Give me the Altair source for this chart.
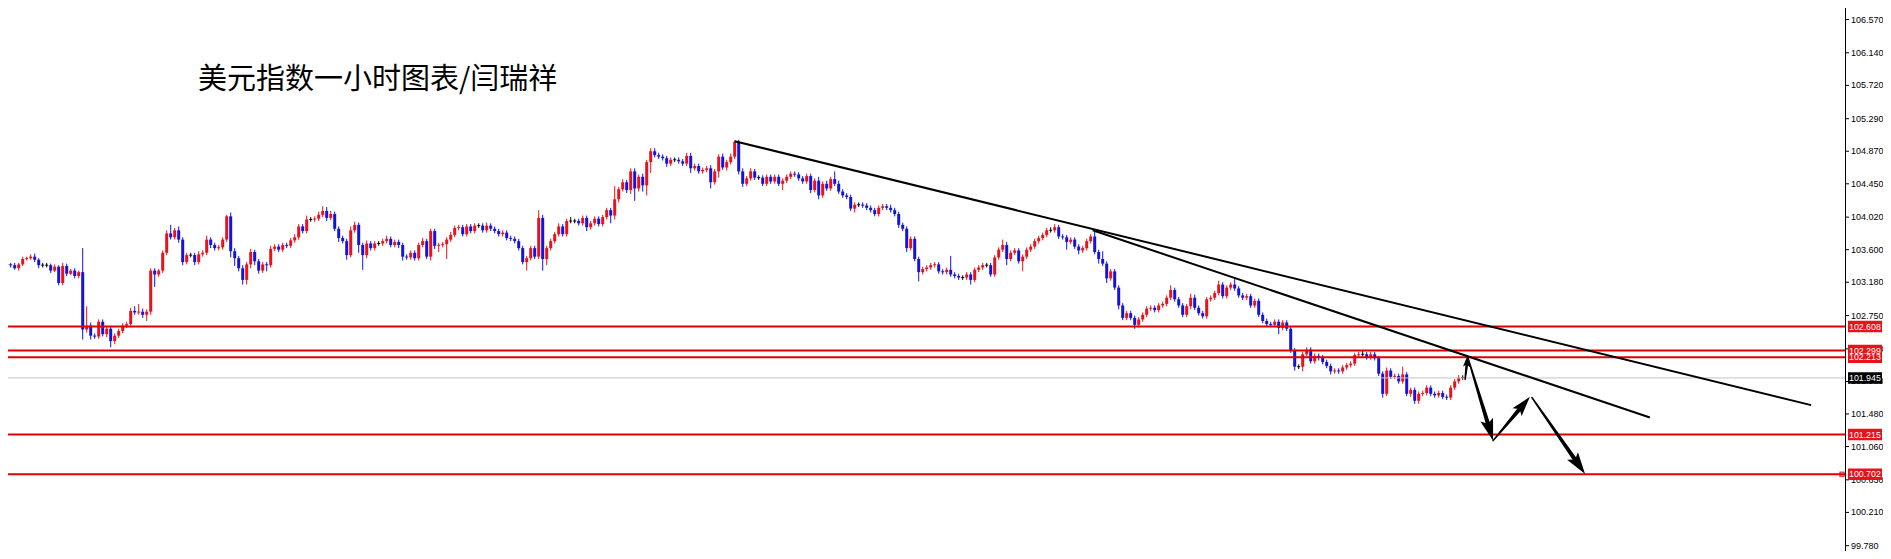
import math
import altair as alt
import pandas as pd

# ---------------- data ----------------
closes = [
    103.41, 103.41, 103.40, 103.36, 103.41, 103.48, 103.49, 103.51, 103.47, 103.40,
    103.40, 103.40, 103.33, 103.38, 103.17, 103.39, 103.29, 103.33, 103.26, 103.31,
    102.57, 102.62, 102.49, 102.48, 102.67, 102.51, 102.58, 102.42, 102.49, 102.55,
    102.62, 102.64, 102.81, 102.79, 102.80, 102.76, 102.80, 103.33, 103.28, 103.33,
    103.56, 103.81, 103.76, 103.85, 103.73, 103.44, 103.53, 103.53, 103.44, 103.54,
    103.56, 103.73, 103.66, 103.62, 103.63, 103.73, 104.03, 103.58, 103.49, 103.36,
    103.21, 103.41, 103.57, 103.45, 103.33, 103.41, 103.40, 103.61, 103.64, 103.60,
    103.66, 103.65, 103.72, 103.76, 103.90, 103.84, 103.99, 103.99, 104.00, 104.05,
    104.10, 104.01, 104.06, 103.87, 103.75, 103.71, 103.53, 103.85, 103.92, 103.66,
    103.53, 103.68,
    103.62, 103.68, 103.68, 103.71, 103.74, 103.66, 103.70, 103.66, 103.51, 103.50,
    103.56, 103.49, 103.66, 103.71, 103.51, 103.84, 103.65, 103.66, 103.67, 103.73,
    103.79, 103.88, 103.89, 103.80, 103.90, 103.84, 103.91, 103.91, 103.85, 103.91,
    103.87, 103.84, 103.80, 103.82, 103.75, 103.74, 103.71, 103.62, 103.44, 103.49,
    103.62, 103.51, 104.01, 103.48, 103.62, 103.71, 103.80, 103.90, 103.80, 103.97,
    103.97, 103.97, 103.94, 104.01, 103.89, 103.94, 104.00, 103.93, 104.02, 104.11,
    104.04, 104.25, 104.38, 104.47, 104.37, 104.61, 104.39, 104.54, 104.43, 104.73,
    104.87, 104.82, 104.80, 104.78, 104.71, 104.76, 104.76, 104.74, 104.71, 104.81,
    104.65, 104.68, 104.61, 104.63, 104.65, 104.47, 104.61, 104.80, 104.66, 104.73,
    104.80, 104.99, 104.61,
    104.45, 104.52, 104.61, 104.53, 104.53, 104.45, 104.54, 104.48, 104.54, 104.45,
    104.49, 104.54, 104.58, 104.57, 104.52, 104.48, 104.55, 104.37, 104.49, 104.30,
    104.45, 104.39, 104.51, 104.45, 104.35, 104.30, 104.28, 104.13, 104.18, 104.18,
    104.17, 104.14, 104.11, 104.06, 104.14, 104.16, 104.14, 104.11, 104.06, 103.92,
    103.87, 103.62, 103.74, 103.48, 103.31, 103.35, 103.37, 103.40, 103.41, 103.32,
    103.31, 103.34, 103.28, 103.26, 103.24, 103.24, 103.28, 103.21, 103.34, 103.37,
    103.40, 103.40, 103.28, 103.50, 103.60, 103.66, 103.48, 103.56, 103.59, 103.45,
    103.51, 103.60, 103.64, 103.71, 103.75, 103.79, 103.85, 103.85, 103.89, 103.77,
    103.76, 103.70, 103.73, 103.64, 103.59, 103.62, 103.71, 103.77, 103.57, 103.48,
    103.42, 103.23,
    103.32, 103.11, 102.88, 102.72, 102.78, 102.72, 102.63, 102.70, 102.76, 102.84,
    102.85, 102.82, 102.88, 102.90, 102.98, 103.08, 102.96, 102.88, 102.76, 102.87,
    102.98, 102.85, 102.78, 102.74, 102.96, 102.98, 103.04, 103.15, 103.00, 103.11,
    103.15, 103.10, 103.01, 102.98, 103.00, 102.88, 102.94, 102.76, 102.68, 102.64,
    102.63, 102.67, 102.59, 102.66, 102.58, 102.30, 102.09, 102.09, 102.25, 102.31,
    102.16, 102.23, 102.21, 102.15, 102.10, 102.03, 102.04, 102.03, 102.08, 102.11,
    102.13, 102.24, 102.25, 102.25, 102.21, 102.25, 102.20, 102.00, 101.74, 102.04,
    101.96, 101.97, 101.90, 101.99, 101.74, 101.79, 101.65, 101.74, 101.75, 101.82,
    101.74, 101.72, 101.75, 101.70, 101.69, 101.82, 101.90, 101.95, 101.95,
]

# upper / lower shadow lengths, in hundredths
up_wick = [
    2, 2, 2, 3, 2, 3, 2, 3, 4, 2,   3, 3, 2, 3, 2, 4, 3, 2, 3, 2,
    31, 25, 4, 3, 3, 3, 4, 3, 3, 3,  3, 3, 4, 6, 10, 4, 3, 3, 3, 2,
    3, 4, 11, 3, 5, 3, 3, 3, 3, 4,  3, 5, 3, 3, 3, 3, 2, 5, 4, 3,
    4, 3, 4, 3, 3, 3, 3, 4, 3, 3,   3, 3, 3, 4, 3, 3, 5, 3, 3, 4,
    6, 5, 4, 3, 3, 3, 3, 5, 4, 3,   3, 4,
    3, 3, 3, 3, 4, 3, 3, 3, 3, 3,   3, 3, 3, 4, 3, 3, 3, 3, 3, 3,
    4, 3, 3, 3, 3, 3, 3, 3, 3, 4,   3, 3, 3, 3, 3, 3, 3, 3, 3, 3,
    3, 3, 10, 4, 3, 3, 3, 4, 3, 3,  5, 3, 3, 3, 3, 3, 3, 3, 3, 3,
    3, 17, 3, 4, 3, 4, 4, 3, 4, 3,  4, 4, 3, 3, 3, 3, 3, 3, 3, 4,
    4, 3, 3, 3, 3, 4, 3, 3, 4, 3,   4, 2, 3,
    4, 3, 4, 3, 3, 3, 3, 3, 3, 3,   3, 3, 3, 3, 3, 3, 3, 3, 3, 5,
    3, 4, 3, 10, 4, 3, 3, 3, 3, 3,  3, 3, 3, 3, 3, 3, 3, 4, 3, 3,
    3, 3, 3, 3, 3, 3, 3, 3, 3, 3,   3, 3, 18, 3, 3, 3, 3, 3, 3, 3,
    3, 3, 3, 3, 3, 7, 4, 3, 3, 3,   3, 3, 3, 3, 3, 3, 3, 4, 4, 3,
    3, 3, 3, 3, 3, 3, 3, 3, 6, 3,   10, 3,
    3, 3, 3, 3, 3, 3, 3, 3, 3, 3,   3, 3, 3, 3, 3, 6, 3, 3, 3, 3,
    5, 4, 3, 3, 3, 3, 3, 5, 3, 3,   3, 9, 3, 3, 3, 3, 3, 3, 3, 3,
    3, 3, 3, 3, 3, 3, 3, 3, 3, 3,   3, 3, 3, 3, 3, 3, 3, 3, 3, 3,
    3, 3, 3, 5, 3, 3, 3, 3, 3, 4,   3, 3, 3, 10, 3, 3, 3, 3, 3, 3,
    3, 3, 3, 3, 3, 3, 3, 3, 3,
]
dn_wick = [
    2, 2, 3, 2, 3, 2, 2, 2, 3, 4,   3, 3, 3, 2, 3, 3, 3, 2, 3, 3,
    13, 4, 5, 3, 3, 3, 4, 8, 4, 3,  3, 3, 4, 3, 3, 4, 8, 4, 16, 3,
    3, 3, 3, 3, 4, 4, 3, 3, 4, 3,   3, 3, 4, 3, 3, 3, 3, 8, 10, 4,
    6, 6, 5, 5, 4, 3, 8, 3, 3, 3,   3, 3, 3, 3, 3, 3, 3, 3, 3, 3,
    3, 4, 3, 3, 5, 3, 6, 3, 3, 10,  19, 4,
    3, 3, 3, 3, 3, 3, 3, 4, 5, 3,   3, 3, 3, 3, 3, 5, 4, 8, 3, 19,
    3, 3, 3, 3, 3, 3, 3, 3, 3, 3,   3, 3, 3, 3, 3, 3, 3, 3, 3, 11,
    3, 3, 3, 15, 8, 3, 3, 3, 3, 3,  3, 3, 3, 3, 5, 3, 3, 3, 3, 3,
    10, 5, 4, 3, 4, 5, 16, 4, 8, 13,  14, 3, 3, 3, 4, 3, 3, 3, 3, 3,
    6, 3, 3, 3, 3, 8, 3, 8, 3, 4,   3, 3, 4,
    4, 3, 3, 3, 3, 3, 3, 3, 3, 3,   8, 3, 3, 3, 3, 3, 3, 4, 3, 5,
    3, 3, 3, 3, 3, 3, 3, 3, 5, 3,   3, 3, 3, 3, 3, 3, 3, 3, 3, 4,
    3, 5, 3, 3, 12, 3, 3, 3, 3, 3,  3, 3, 3, 3, 3, 3, 3, 6, 3, 3,
    3, 3, 3, 3, 3, 3, 8, 3, 3, 3,   13, 3, 3, 3, 3, 3, 3, 3, 3, 3,
    3, 10, 3, 3, 5, 3, 3, 3, 3, 6,  3, 6,
    3, 3, 5, 3, 3, 3, 5, 3, 3, 3,   3, 3, 3, 3, 3, 3, 3, 3, 3, 3,
    4, 3, 3, 3, 3, 3, 3, 3, 3, 3,   3, 3, 3, 3, 3, 3, 3, 3, 3, 3,
    3, 3, 8, 3, 3, 3, 5, 3, 6, 3,   3, 3, 4, 3, 3, 4, 3, 3, 3, 3,
    3, 3, 3, 3, 3, 3, 3, 3, 5, 3,   3, 3, 3, 3, 3, 4, 4, 4, 3, 3,
    3, 3, 3, 3, 3, 3, 3, 3, 3,
]

tick_values = [106.570, 106.140, 105.720, 105.290, 104.870, 104.450, 104.020,
               103.600, 103.180, 102.750, 102.320, 101.900, 101.480, 101.060,
               100.630, 100.210, 99.780]
red_levels = [102.608, 102.299, 102.213, 101.215, 100.702]
current_price = 101.945
title_text = "美元指数一小时图表/闫瑞祥"

# trend lines: start bar, start price, end bar, end price
trend_x0 = [183, 272.5]
trend_y0 = [105.00, 103.85]
trend_x1 = [452.1, 411.8]
trend_y1 = [101.594, 101.435]

# projection arrows: start bar, start price, tip bar, tip price
arrow_x0 = [365.6, 366.3, 372.6, 382.3]
arrow_y0 = [101.927, 102.206, 101.136, 101.692]
arrow_x1 = [366.3, 372.6, 381.8, 395.6]
arrow_y1 = [102.241, 101.136, 101.701, 100.706]
arrow_head = [12, 22, 20, 22]   # head length, px

# ---------------- layout ----------------
W, H = 1837, 543
X_DOM = [1.325, 460.575]
Y_DOM = [99.7119, 106.7184]
px_i = W / (X_DOM[1] - X_DOM[0])
px_p = H / (Y_DOM[1] - Y_DOM[0])

RED = "#e8121a"
BLUE = "#1414d8"
LINE_RED = "#e00000"

n = len(closes)
opens = [closes[0]] + closes[:-1]
rows = []
min_body = 1.0 / px_p
for i in range(n):
    o, c = opens[i], closes[i]
    top, bot = max(o, c), min(o, c)
    if c - o > 1e-9:
        col = RED
    elif o - c > 1e-9:
        col = BLUE
    else:
        col = "#000000"
    b0, b1 = bot, top
    if top - bot < min_body:
        mid = (top + bot) / 2
        b0, b1 = mid - min_body / 2, mid + min_body / 2
    rows.append(dict(i=i, open=o, close=c, b0=b0, b1=b1,
                     high=top + up_wick[i] / 100.0,
                     low=bot - dn_wick[i] / 100.0, col=col))
candles = pd.DataFrame(rows)

xs = alt.Scale(domain=X_DOM)
ys = alt.Scale(domain=Y_DOM)


def X(f):
    return alt.X(f, type="quantitative", scale=xs, axis=None)


def Y(f):
    return alt.Y(f, type="quantitative", scale=ys, axis=None)


# ---- price scale on the right (domain line, ticks, labels through the y scale)
axis_df = pd.DataFrame({"v": tick_values})
axis_df["label"] = axis_df["v"].map(lambda v: f"{v:.3f}")
axis_line = alt.Chart(pd.DataFrame({"a": [0]})).mark_rule(
    color="#000000", strokeWidth=1).encode(
    x=alt.value(W + 0.5), y=alt.value(0), y2=alt.value(H))
axis_ticks = alt.Chart(axis_df).mark_rule(color="#000000", strokeWidth=1).encode(
    x=alt.value(W), x2=alt.value(W + 4), y=Y("v"))
axis_labels = alt.Chart(axis_df).mark_text(
    align="left", baseline="middle", font="Liberation Sans", fontSize=9,
    color="#000000").encode(x=alt.value(W + 6), y=Y("v"), text="label:N")

wicks = alt.Chart(candles).mark_rule(strokeWidth=1).encode(
    x=X("i"), y=Y("low"), y2="high:Q",
    color=alt.Color("col:N", scale=None))
bodies = alt.Chart(candles).mark_rule(strokeWidth=3, strokeCap="butt").encode(
    x=X("i"), y=Y("b0"), y2="b1:Q",
    color=alt.Color("col:N", scale=None))

lev = pd.DataFrame({"p": red_levels})
red_lines = alt.Chart(lev).mark_rule(color=LINE_RED, strokeWidth=2).encode(
    y=Y("p"), x=alt.value(0), x2=alt.value(W))
cur = pd.DataFrame({"p": [current_price]})
gray_line = alt.Chart(cur).mark_rule(color="#c4c4c4", strokeWidth=1).encode(
    y=Y("p"), x=alt.value(0), x2=alt.value(W))

tl = pd.DataFrame({"x0": trend_x0, "y0": trend_y0, "x1": trend_x1, "y1": trend_y1})
trend = alt.Chart(tl).mark_rule(color="#000000", strokeWidth=2).encode(
    x=X("x0"), x2="x1:Q", y=Y("y0"), y2="y1:Q")

# arrows: tapered shaft (trail) + head (custom symbol)
trail_rows, head_rows = [], []
for k in range(len(arrow_x0)):
    dx = (arrow_x1[k] - arrow_x0[k]) * px_i
    dy = -(arrow_y1[k] - arrow_y0[k]) * px_p
    L = math.hypot(dx, dy)
    ux, uy = dx / L, dy / L
    half = arrow_head[k] / 2.0
    ci = arrow_x1[k] - ux * half / px_i
    cp = arrow_y1[k] + uy * half / px_p
    ang = math.degrees(math.atan2(ux, -uy)) % 360
    trail_rows.append(dict(id=k, seq=0, x=arrow_x0[k], p=arrow_y0[k], w=1.5))
    trail_rows.append(dict(id=k, seq=1, x=ci, p=cp, w=4.5 if k else 3))
    head_rows.append(dict(x=ci, p=cp, ang=ang, sz=arrow_head[k] ** 2))
trail_df = pd.DataFrame(trail_rows)
head_df = pd.DataFrame(head_rows)

shafts = alt.Chart(trail_df).mark_trail(color="#000000").encode(
    x=X("x"), y=Y("p"), size=alt.Size("w:Q", scale=None, legend=None),
    detail="id:N", order="seq:Q")
heads = alt.Chart(head_df).mark_point(
    shape="M0,-1L0.6,1L0,0.6L-0.6,1Z", filled=True, color="#000000",
    opacity=1, strokeWidth=0).encode(
    x=X("x"), y=Y("p"), angle=alt.Angle("ang:Q", scale=None),
    size=alt.Size("sz:Q", scale=None, legend=None))

# price boxes on the axis
box_df = pd.DataFrame({
    "p": red_levels[:3] + [current_price] + red_levels[3:],
    "col": [RED, RED, RED, "#000000", RED, RED],
})
box_df["label"] = box_df["p"].map(lambda v: f"{v:.3f}")
boxes = alt.Chart(box_df).mark_point(
    shape="M-1,-0.34L1,-0.34L1,0.34L-1,0.34Z", filled=True, opacity=1,
    strokeWidth=0, size=34 * 34).encode(
    x=alt.value(W + 20), y=Y("p"), color=alt.Color("col:N", scale=None))
box_text = alt.Chart(box_df).mark_text(
    align="left", baseline="middle", color="#ffffff",
    font="Liberation Sans", fontSize=8.8).encode(
    x=alt.value(W + 4), y=Y("p"), text="label:N")
marker = alt.Chart(pd.DataFrame({"p": [red_levels[-1]]})).mark_point(
    shape="square", size=16, color=LINE_RED, filled=False, strokeWidth=1.5).encode(
    x=alt.value(W - 3), y=Y("p"))

title = alt.Chart(pd.DataFrame({"t": [title_text]})).mark_text(
    align="left", baseline="middle", font="Noto Sans CJK SC", fontSize=29,
    color="#000000").encode(x=alt.value(190), y=alt.value(72), text="t:N")

chart = alt.layer(
    wicks, bodies, gray_line, red_lines, trend, shafts, heads,
    axis_line, axis_ticks, axis_labels,
    marker, boxes, box_text, title
).properties(
    width=W, height=H,
    autosize=alt.AutoSizeParams(type="none"),
    padding={"left": 0, "top": 0, "right": 38, "bottom": 0},
    background="#ffffff",
).configure_view(stroke=None)

chart.save("out.html", embed_options={"renderer": "svg", "actions": False})
